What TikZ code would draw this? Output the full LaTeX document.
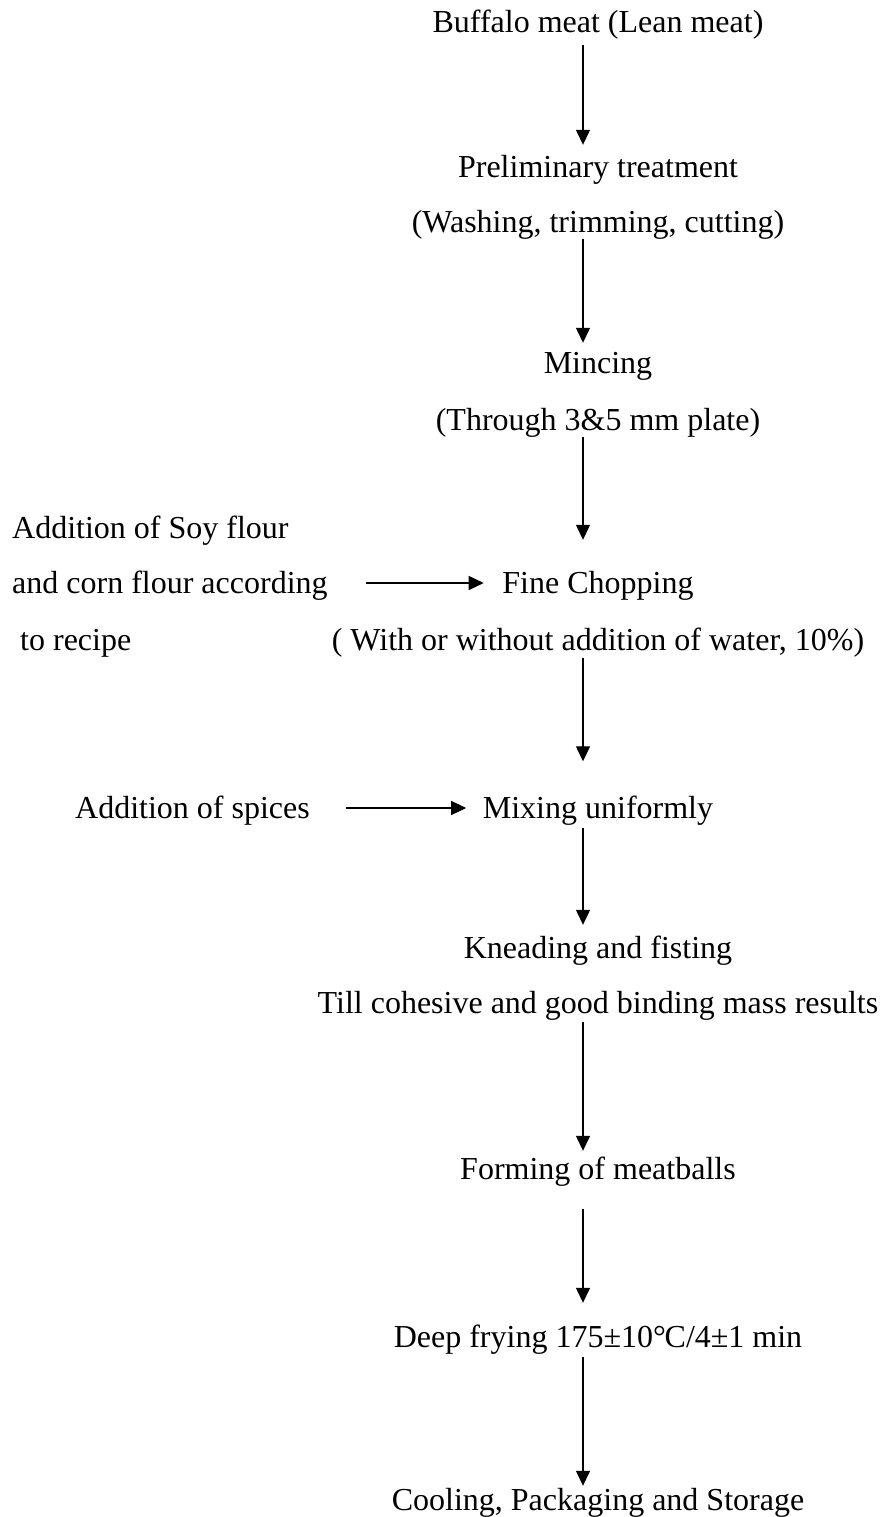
\documentclass[tikz,border=0pt]{standalone}
\usepackage{fontspec}
\setmainfont{Liberation Serif}
\usetikzlibrary{arrows.meta}
\begin{document}
\begin{tikzpicture}[x=1pt,y=-1pt,
  txt/.style={inner sep=0pt, text height=21pt, text depth=0pt, font=\fontsize{32}{38}\selectfont},
  flow/.style={-{Triangle[length=15pt,width=14pt]}, line width=1.3pt}]
\fill[white] (0,0) rectangle (881,1517);
\useasboundingbox (0,0) rectangle (881,1517);
\coordinate (ax) at (583,0);
% main column
\node[txt] (buf) at (598,22) {Buffalo meat (Lean meat)};
\node[txt] (pre) at (598,167) {Preliminary treatment};
\node[txt] (wash) at (598,222) {(Washing, trimming, cutting)};
\node[txt] (minc) at (598,363) {Mincing};
\node[txt] (thru) at (598,420) {(Through 3\&5 mm plate)};
\node[txt] (fine) at (598,583) {Fine Chopping};
\node[txt] (water) at (598,640) {( With or without addition of water, 10\%)};
\node[txt] (mix) at (598,808) {Mixing uniformly};
\node[txt] (knead) at (598,948) {Kneading and fisting};
\node[txt] (till) at (598,1003) {Till cohesive and good binding mass results};
\node[txt] (form) at (598,1169) {Forming of meatballs};
\node[txt] (fry) at (598,1337) {Deep frying 175±10°\kern-0.04em C/4±1 min};
\node[txt] (cool) at (598,1500) {Cooling, Packaging and Storage};
% side inputs
\node[txt, anchor=west] (soy) at (12,528) {Addition of Soy flour};
\node[txt, anchor=west] (corn) at (12,583) {and corn flour according};
\node[txt, anchor=west] (rec) at (20,640) {to recipe};
\node[txt, anchor=west] (spice) at (75,808) {Addition of spices};
% vertical arrows
\draw[flow, shorten <=12.5pt, shorten >=11.5pt] (buf.south -| ax) -- (pre.north -| ax);
\draw[flow, shorten <=6.5pt, shorten >=9.5pt] (wash.south -| ax) -- (minc.north -| ax);
\draw[flow, shorten <=6.5pt, shorten >=32.5pt] (thru.south -| ax) -- (fine.north -| ax);
\draw[flow, shorten <=7.5pt, shorten >=36pt] (water.south -| ax) -- (mix.north -| ax);
\draw[flow, shorten <=9.5pt, shorten >=12.5pt] (mix.south -| ax) -- (knead.north -| ax);
\draw[flow, shorten <=8.5pt, shorten >=7.5pt] (till.south -| ax) -- (form.north -| ax);
\draw[flow, shorten <=29.5pt, shorten >=23.5pt] (form.south -| ax) -- (fry.north -| ax);
\draw[flow, shorten <=9.5pt, shorten >=3.5pt] (fry.south -| ax) -- (cool.north -| ax);
% horizontal arrows
\draw[flow, shorten <=38pt, shorten >=18.5pt] (corn.east) -- (fine.west);
\draw[flow, shorten <=36pt, shorten >=16.5pt] (spice.east) -- (mix.west);
\end{tikzpicture}
\end{document}
